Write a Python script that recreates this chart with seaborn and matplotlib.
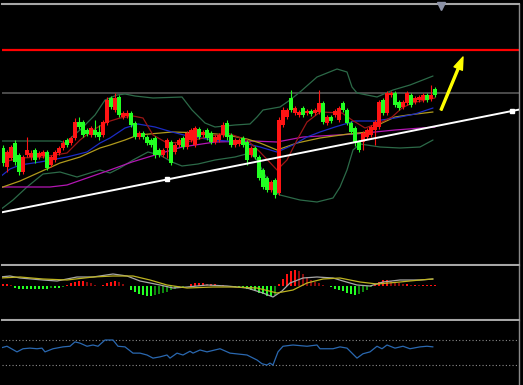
import numpy as np
import matplotlib
matplotlib.use("Agg")
import matplotlib.pyplot as plt
import seaborn as sns

# candles, one per bar (price units)
opens = [1352, 1333, 1342, 1357, 1345, 1328, 1345, 1343, 1350, 1343,
         1344, 1348, 1335, 1340, 1347, 1352, 1360, 1357, 1362, 1378,
         1378, 1370, 1365, 1370, 1368, 1365, 1377, 1402, 1390, 1403,
         1383, 1384, 1387, 1377, 1363, 1367, 1363, 1360, 1362, 1350,
         1345, 1352, 1358, 1348, 1355, 1362, 1353, 1360, 1355, 1371,
         1365, 1370, 1367, 1358, 1360, 1365, 1377, 1365, 1355, 1356,
         1362, 1358, 1345, 1352, 1343, 1330, 1322, 1310, 1320, 1307,
         1375, 1383, 1402, 1387, 1385, 1392, 1387, 1389, 1387, 1388,
         1397, 1377, 1383, 1385, 1380, 1397, 1390, 1377, 1372, 1358,
         1358, 1363, 1365, 1370, 1373, 1400, 1387, 1405, 1407, 1398,
         1393, 1397, 1405, 1398, 1400, 1400, 1405, 1401, 1411]
closes = [1337, 1348, 1353, 1338, 1328, 1343, 1350, 1347, 1340, 1347,
          1348, 1332, 1343, 1348, 1352, 1357, 1355, 1362, 1378, 1373,
          1365, 1366, 1372, 1365, 1363, 1378, 1400, 1393, 1402, 1385,
          1387, 1387, 1375, 1363, 1367, 1363, 1357, 1355, 1345, 1345,
          1350, 1360, 1337, 1355, 1360, 1353, 1367, 1370, 1372, 1363,
          1368, 1362, 1358, 1363, 1365, 1375, 1363, 1355, 1360, 1360,
          1355, 1340, 1352, 1343, 1322, 1313, 1310, 1318, 1305, 1380,
          1390, 1390, 1390, 1392, 1388, 1385, 1389, 1386, 1390, 1397,
          1378, 1383, 1379, 1389, 1392, 1390, 1377, 1368, 1357, 1350,
          1367, 1370, 1373, 1378, 1398, 1387, 1407, 1407, 1395, 1392,
          1398, 1407, 1395, 1402, 1403, 1405, 1400, 1405, 1405]
highs = [1355, 1350, 1355, 1360, 1347, 1345, 1363, 1350, 1352, 1349,
         1350, 1350, 1345, 1350, 1354, 1360, 1362, 1364, 1382, 1383,
         1380, 1372, 1374, 1380, 1375, 1380, 1403, 1404, 1407, 1405,
         1389, 1390, 1389, 1379, 1369, 1369, 1365, 1362, 1364, 1352,
         1352, 1362, 1360, 1357, 1362, 1364, 1369, 1372, 1374, 1373,
         1370, 1372, 1369, 1365, 1367, 1378, 1380, 1367, 1362, 1362,
         1364, 1360, 1354, 1354, 1345, 1332, 1324, 1320, 1322, 1383,
         1393, 1392, 1410, 1394, 1390, 1394, 1391, 1391, 1392, 1410,
         1399, 1385, 1385, 1391, 1394, 1399, 1392, 1379, 1374, 1360,
         1369, 1372, 1375, 1380, 1400, 1402, 1409, 1409, 1409, 1400,
         1400, 1409, 1407, 1404, 1405, 1407, 1407, 1415, 1413]
lows = [1334, 1328, 1340, 1335, 1325, 1326, 1343, 1340, 1337, 1341,
        1342, 1330, 1333, 1338, 1345, 1350, 1353, 1355, 1360, 1371,
        1363, 1364, 1363, 1363, 1360, 1363, 1375, 1391, 1388, 1383,
        1381, 1382, 1373, 1361, 1361, 1361, 1355, 1353, 1342, 1343,
        1343, 1342, 1335, 1346, 1353, 1351, 1351, 1358, 1353, 1361,
        1363, 1360, 1356, 1356, 1358, 1363, 1360, 1353, 1353, 1354,
        1353, 1335, 1343, 1341, 1320, 1311, 1308, 1308, 1302, 1305,
        1373, 1381, 1388, 1385, 1383, 1383, 1385, 1384, 1385, 1386,
        1376, 1375, 1377, 1383, 1378, 1388, 1375, 1366, 1354, 1348,
        1350, 1361, 1363, 1355, 1371, 1385, 1385, 1403, 1393, 1390,
        1391, 1395, 1393, 1396, 1398, 1398, 1398, 1399, 1403]

# bollinger bands and moving averages, read as knots (bar index, price)
bb_up_x = [-0.75, 14.25, 15.5, 19.25, 23, 25.5, 28.5, 30.5, 33, 37.5, 44.75, 47.25, 50.5, 53, 58,
           61.75, 63.5, 65, 69.25, 71.75, 74.25, 78.5, 83.5, 86, 87.25, 88.5, 93.5, 97.5, 101.75, 107.5]
bb_up_y = [1359, 1359, 1357, 1370, 1385, 1400, 1405, 1406, 1404, 1402, 1403, 1390, 1377, 1373, 1375,
           1376, 1383, 1390, 1393, 1400, 1408, 1423, 1431, 1428, 1413, 1407, 1403, 1410, 1415, 1424]
bb_lo_x = [-0.75, 2.5, 6, 10, 14.25, 18.5, 21.75, 24.25, 26.75, 29.25, 32.5, 36.25, 39.25, 42.25, 44.75,
           48.75, 53, 58, 61.75, 63.5, 65.5, 67.5, 69.25, 74.25, 78.5, 82.5, 84.25, 86, 87.5, 89.25,
           94.25, 99.25, 104.25, 107.5]
bb_lo_y = [1290, 1300, 1313, 1326, 1328, 1323, 1327, 1330, 1327, 1332, 1340, 1348, 1345, 1338, 1334,
           1336, 1340, 1343, 1347, 1340, 1325, 1310, 1305, 1300, 1298, 1302, 1313, 1330, 1350, 1356,
           1353, 1352, 1353, 1360]
ma_red_x = [-0.75, 4.25, 10, 16, 19.25, 22.5, 26, 29.25, 32.5, 35, 37.5, 41, 46, 51, 56, 61, 64.25,
            68.5, 71, 73.5, 76, 79.25, 84.75, 87.25, 90.5, 94.75, 97.25, 99.75, 102.25, 105.5, 108]
ma_red_y = [1337, 1342, 1343, 1347, 1360, 1370, 1378, 1382, 1384, 1382, 1365, 1357, 1358, 1363, 1367,
            1360, 1348, 1330, 1340, 1360, 1378, 1388, 1387, 1380, 1372, 1378, 1383, 1392, 1397, 1400, 1402]
ma_blue_x = [-0.75, 1.75, 4.25, 9.25, 16, 21, 24.25, 26.75, 30.5, 33.75, 38, 42.25, 47.25, 53, 59.25,
             64.25, 68.5, 72.5, 76, 79.25, 83, 88, 93, 98, 103, 107.5]
ma_blue_y = [1323, 1331, 1335, 1338, 1343, 1348, 1357, 1362, 1372, 1376, 1373, 1368, 1363, 1360, 1358,
             1353, 1348, 1355, 1363, 1368, 1373, 1379, 1379, 1382, 1386, 1392]
ma_gold_x = [-0.75, 4.25, 9.25, 14.25, 19.25, 24.25, 26.75, 30.5, 33.75, 42.25, 50.5, 56, 61, 64.25,
             68.5, 73.5, 79.25, 86.25, 91.25, 94.75, 98, 101.25, 107.5]
ma_gold_y = [1312, 1319, 1328, 1337, 1343, 1352, 1355, 1360, 1365, 1368, 1367, 1365, 1361, 1357,
             1350, 1357, 1362, 1366, 1368, 1377, 1383, 1385, 1388]
ma_mag_x = [-0.75, 11.75, 16, 21, 26.75, 32.25, 38, 44.75, 53, 62.5, 68.5, 75, 79.25, 88, 98, 108]
ma_mag_y = [1313, 1313, 1315, 1322, 1330, 1338, 1345, 1353, 1358, 1359, 1358, 1363, 1364, 1366, 1370, 1373]

# horizontal levels, trend line anchors, arrow
level_prices = [1450, 1407]
level_colors = ["#ff0000", "#505050"]
trend_x = [41, 127.25]
trend_y = [1320.5, 1389]
arrow_from = (109.5, 1390)
arrow_to = (115, 1443)

# MACD
macd_hist = [2, 2, 1,
             -2, -3, -3, -3, -3, -3, -3, -3, -3, -2, -2, -2, -1,
             1, 3, 4, 5, 5, 4, 3,
             1, 0.5, 1,
             3, 4, 5, 4, 2,
             0.5,
             -4, -6, -8, -9, -10, -10, -9, -8, -7, -6, -4, -3,
             -2, -1, 0.5,
             2, 3, 3, 3, 2, 2, 2, 1, 1, 0.5,
             -0.5, -1, -1, -2,
             -3, -4, -5, -7, -8, -10, -10, -9,
             2, 7, 12, 15, 16, 15, 12, 9, 6,
             4, 3, 1, 0.5,
             -1, -3, -4, -5, -7, -8, -9, -8, -6, -4,
             -1,
             2, 4, 6, 6, 5, 4, 3,
             2, 2, 1.5, 1.5, 1, 1, 1, 1, 1]
macd_main_x = [-0.75, 1.75, 4.25, 10, 13.5, 18.5, 22.5, 27.5, 31, 34.25, 39.25, 42.5, 46, 51, 56,
               61, 65, 67.5, 69.75, 71.75, 75, 78.5, 82.5, 85, 88.5, 91.75, 95, 99.25, 104.25, 107.5]
macd_main_y = [9, 10, 8, 6, 5, 9, 9, 12, 10, 5, 1, -2, -1, 1, 0,
               -2, -7, -11, -5, 3, 8, 9, 8, 5, 1, 0, 4, 6, 6, 7]
macd_sig_x = [-0.75, 4.25, 10, 16, 22.5, 27.5, 32.5, 36.75, 41, 46, 52.5, 57.5, 63.5, 68.5, 72.5,
              76, 80, 84.25, 89.25, 93.5, 99.25, 104.25, 107.5]
macd_sig_y = [8, 9, 7, 6, 9, 10, 10, 6, 1, -2, -1, -1, -2, -7, -4,
              3, 7, 8, 4, 2, 4, 6, 7]

# RSI
rsi_x = [-0.75, 1, 3.5, 5, 6.75, 8.5, 9.75, 10.5, 12.5, 15,
         16.75, 18, 19.25, 21, 22.5, 23.75, 25.5, 27.5, 28.75, 30.5,
         32.5, 34.25, 36, 37.5, 39.25, 41, 41.75, 43.5, 45, 46.75,
         47.5, 49.25, 51, 54.25, 56.75, 61, 63.5, 64.75, 66, 66.75,
         67.5, 68.75, 70, 72.5, 76, 78.5, 79.25, 82.5, 84.25, 86,
         88.5, 90, 91.75, 93.5, 94.75, 96, 98, 100, 101.75, 104.25,
         106, 107.5]
rsi_y = [57, 60, 51, 56, 57, 56, 57, 51, 56, 59,
         60, 67, 65, 60, 62, 60, 70, 70, 60, 59,
         49, 49, 46, 41, 43, 46, 41, 49, 46, 52,
         49, 54, 51, 56, 49, 46, 38, 32, 30, 33,
         30, 51, 60, 62, 60, 62, 56, 56, 59, 57,
         41, 48, 51, 60, 56, 62, 57, 60, 56, 59,
         60, 59]
rsi_levels = [70, 30]

sns.set_style("dark", {"axes.facecolor": "black", "figure.facecolor": "black"})

W, H = 523, 385
fig = plt.figure(figsize=(W / 100, H / 100), dpi=100)
fig.patch.set_facecolor("black")

ax = fig.add_axes([2 / W, 1 - 265 / H, 517 / W, 261 / H])
ax_macd = fig.add_axes([2 / W, 1 - 320 / H, 517 / W, 54 / H])
ax_rsi = fig.add_axes([2 / W, 0, 517 / W, 64 / H])

xlim = (-0.25, 129)
for a in (ax, ax_macd, ax_rsi):
    a.set_facecolor("black")
    a.set_xlim(*xlim)
    a.set_xticks([])
    a.set_yticks([])
    for s in a.spines.values():
        s.set_visible(False)
    a.spines["right"].set_visible(True)
    a.spines["right"].set_color("#8a8a8a")
    a.spines["right"].set_linewidth(1.0)

sep = "#a6a6a6"
for a, side in ((ax, "top"), (ax, "bottom"), (ax_macd, "bottom")):
    a.spines[side].set_visible(True)
    a.spines[side].set_color(sep)
    a.spines[side].set_linewidth(1.5)

ax.set_ylim(1235, 1496)
ax_macd.set_ylim(-34, 20)
ax_rsi.set_ylim(-2, 100.4)


def line(a, xs, ys, color, lw=0.9, z=3):
    sns.lineplot(x=xs, y=ys, ax=a, color=color, linewidth=lw,
                 estimator=None, sort=False, legend=False, zorder=z)


# main panel
for p, c in zip(level_prices, level_colors):
    ax.axhline(p, color=c, linewidth=1.6 if c == "#ff0000" else 1.3, zorder=1)

line(ax, bb_up_x, bb_up_y, "#2c6a48")
line(ax, bb_lo_x, bb_lo_y, "#2c6a48")
line(ax, ma_mag_x, ma_mag_y, "#b316b3")
line(ax, ma_gold_x, ma_gold_y, "#b09a1c")
line(ax, ma_blue_x, ma_blue_y, "#1c2cc4")
line(ax, ma_red_x, ma_red_y, "#9a1616")

o = np.array(opens, dtype=float)
c = np.array(closes, dtype=float)
idx = np.arange(len(o))
up = c >= o
col = np.where(up, "#ff1414", "#22ff22")
ax.vlines(idx, lows, highs, colors=col, linewidth=0.8, zorder=4)
body = np.maximum(np.abs(c - o), 1.0)
ax.bar(idx, body, bottom=np.minimum(o, c), width=0.78, color=col, linewidth=0,
       antialiased=False, zorder=4)

slope = (trend_y[1] - trend_y[0]) / (trend_x[1] - trend_x[0])
tx = np.array(xlim)
ax.plot(tx, trend_y[0] + slope * (tx - trend_x[0]), color="white", linewidth=1.4, zorder=5)
ax.plot(trend_x, trend_y, "s", color="white", markersize=2.5, zorder=6)

ax.annotate("", xy=arrow_to, xytext=arrow_from,
            arrowprops=dict(facecolor="#ffff00", edgecolor="#ffff00",
                            width=1.4, headwidth=6.5, headlength=9, shrink=0))
ax.plot([109.5], [1494], marker="v", color="#8c92a6", markersize=6,
        clip_on=False, zorder=6)

# MACD panel
h = np.array(macd_hist, dtype=float)
prev = np.concatenate([[0.0], h[:-1]])
hcol = np.where(h >= 0,
                np.where(h >= prev, "#ff1010", "#8a0b0b"),
                np.where(h <= prev, "#22ff22", "#0e8a0e"))
ax_macd.bar(idx, h, width=0.4, color=hcol, linewidth=0, zorder=2)
line(ax_macd, macd_main_x, macd_main_y, "#a8a8a8", lw=0.9)
line(ax_macd, macd_sig_x, macd_sig_y, "#bdb320", lw=0.9)

# RSI panel
for lv in rsi_levels:
    ax_rsi.axhline(lv, color="#8c8c8c", linewidth=0.8, linestyle=(0, (1, 2)))
line(ax_rsi, rsi_x, rsi_y, "#2a68b0", lw=0.9)

fig.savefig("out.png", dpi=100, facecolor="black")
